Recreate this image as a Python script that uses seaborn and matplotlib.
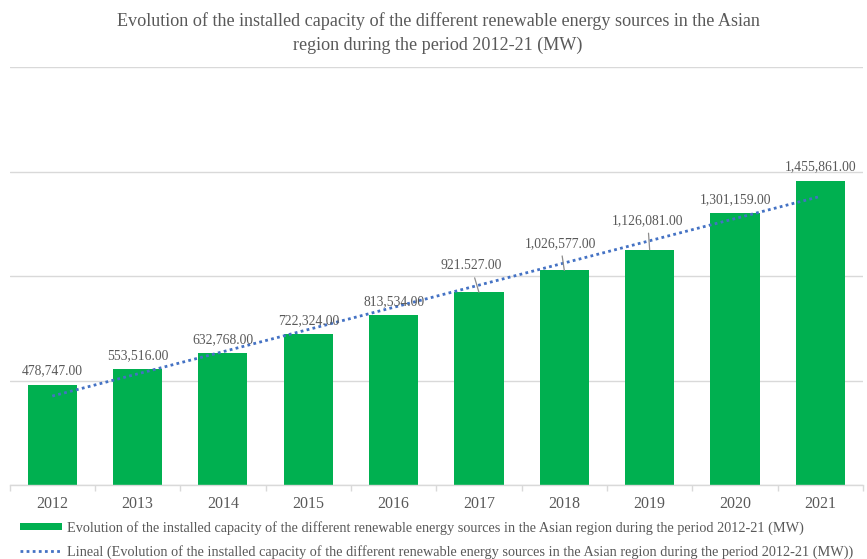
import numpy as np
import pandas as pd
import matplotlib
matplotlib.use("Agg")
import matplotlib.pyplot as plt
import seaborn as sns
from matplotlib.patches import Patch
from matplotlib.lines import Line2D

years = ["2012", "2013", "2014", "2015", "2016", "2017", "2018", "2019", "2020", "2021"]
capacity_mw = [478747, 553516, 632768, 722324, 813534, 921527, 1026577, 1126081, 1301159, 1455861]
value_labels = ["478,747.00", "553,516.00", "632,768.00", "722,324.00", "813,534.00",
                "921.527.00", "1,026,577.00", "1,126,081.00", "1,301,159.00", "1,455,861.00"]
title = ("Evolution of the installed capacity of the different renewable energy sources in the Asian\n"
         "region during the period 2012-21 (MW)")
series_name = ("Evolution of the installed capacity of the different renewable energy sources "
               "in the Asian region during the period 2012-21 (MW)")
trend_name = "Lineal (" + series_name + ")"

# label offsets (dx, dy) in pixels relative to bar top centre, and whether a leader line is drawn
label_offsets = [(0, 14), (0, 14), (0, 13), (0, 13), (0, 13), (-8, 27), (-4, 27), (-2, 29), (1, 13), (0, 14)]
leaders = [False, False, False, False, False, True, True, True, False, False]

sns.set_theme(style="white")
plt.rcParams["font.family"] = ["Liberation Serif", "DejaVu Serif"]

GREEN = "#00B050"
TXT = "#595959"
GRID = "#D9D9D9"

df = pd.DataFrame({"year": years, "mw": capacity_mw})
df["pos"] = np.arange(len(years))

W, H = 867, 559
fig = plt.figure(figsize=(W / 100, H / 100), dpi=100)
ax = fig.add_axes([9.6 / W, (H - 485) / H, (863 - 9.6) / W, (485 - 67) / H])

sns.barplot(data=df, x="year", y="mw", color=GREEN, saturation=1, width=0.575,
            edgecolor="none", ax=ax)
sns.regplot(data=df, x="pos", y="mw", scatter=False, ci=None, ax=ax,
            line_kws=dict(color="#4472C4", linestyle=(0, (1, 1.2)), linewidth=2.0))

ax.set_xlim(-0.5, 9.5)
ax.set_ylim(0, 2000000)
ax.set_yticks(np.arange(0, 2000001, 500000))
ax.set_yticklabels([])
ax.tick_params(axis="y", length=0)
ax.grid(axis="y", color=GRID, linewidth=1)
ax.set_axisbelow(True)
for s in ["left", "right", "top"]:
    ax.spines[s].set_visible(False)
ax.spines["bottom"].set_color(GRID)
ax.spines["bottom"].set_linewidth(1)
ax.set_xticks(np.arange(len(years)))
ax.set_xticklabels(years, fontsize=11.5, color=TXT)
ax.set_xticks(np.arange(-0.5, len(years), 1.0), minor=True)
ax.tick_params(axis="x", which="major", length=0, pad=8)
ax.tick_params(axis="x", which="minor", length=4, color=GRID, bottom=True)
ax.set_xlabel("")
ax.set_ylabel("")

for i, (v, lab) in enumerate(zip(capacity_mw, value_labels)):
    dx, dy = label_offsets[i]
    kw = dict(xy=(i, v), xytext=(dx * 0.72, dy * 0.72), textcoords="offset points",
              ha="center", va="center", fontsize=9.8, color=TXT)
    if leaders[i]:
        kw["arrowprops"] = dict(arrowstyle="-", color="#8C8C8C", lw=0.9, shrinkA=2, shrinkB=0)
    ax.annotate(lab, **kw)

fig.text(438 / W, 1 - 33 / H, title, ha="center", va="center", fontsize=13.1,
         color=TXT, linespacing=1.55)

handles = [Patch(facecolor=GREEN, edgecolor="none"),
           Line2D([0], [0], color="#4472C4", linestyle=(0, (1, 1.2)), linewidth=2.0)]
leg = fig.legend(handles, [series_name, trend_name], loc="lower left",
                 bbox_to_anchor=(14 / W, -6 / H), frameon=False, fontsize=10.25,
                 labelcolor=TXT, handlelength=2.9, handleheight=0.45,
                 handletextpad=0.35, labelspacing=0.7, borderaxespad=0.05)

fig.savefig("out.png", dpi=100, facecolor="white")
